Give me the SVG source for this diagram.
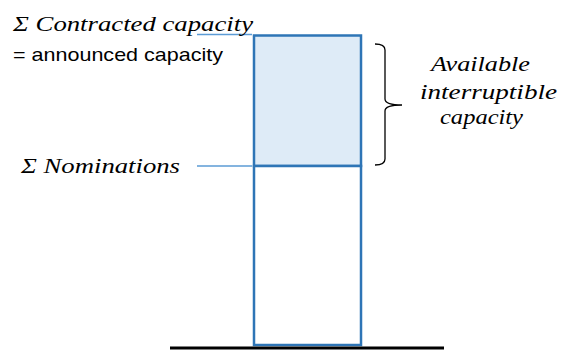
<svg xmlns="http://www.w3.org/2000/svg" width="562" height="350" viewBox="0 0 562 350">
<style>
.m{font-family:"Liberation Serif","DejaVu Serif",serif;font-style:italic;font-size:21px;fill:#000}
.s{font-family:"Liberation Sans",Arial,sans-serif;font-size:19px;fill:#000}
.box{stroke:#2E75B6;stroke-width:2.5}
.lead{stroke:#5B9BD5;stroke-width:1.3;fill:none}
</style>
<rect width="562" height="350" fill="#fff"/>
<g id="connectors">
<line class="lead" x1="197" y1="34.5" x2="252" y2="34.5"/>
<line class="lead" x1="197" y1="166" x2="252" y2="166"/>
</g>
<g id="interruptible-box">
<rect class="box" x="254" y="35.5" width="107" height="130.5" fill="#DEEBF7"/>
</g>
<g id="nominations-box">
<rect class="box" x="254" y="166" width="107" height="179" fill="#fff"/>
</g>
<g id="ground">
<line x1="170" y1="348" x2="444" y2="348" stroke="#000" stroke-width="3"/>
</g>
<g id="brace">
<path d="M375 44 Q385 44 385 50 L385 99 Q385 105 402 105 Q385 105 385 111 L385 159 Q385 165 375 165" fill="none" stroke="#000" stroke-width="1.3"/>
</g>
<g id="label-contracted">
<text class="m" x="13" y="31" textLength="240" lengthAdjust="spacingAndGlyphs">Σ Contracted capacity</text>
<text class="s" x="13" y="61" textLength="210" lengthAdjust="spacingAndGlyphs">= announced capacity</text>
</g>
<g id="label-nominations">
<text class="m" x="21" y="173" textLength="159" lengthAdjust="spacingAndGlyphs">Σ Nominations</text>
</g>
<g id="label-available">
<text class="m" x="431" y="71" textLength="99" lengthAdjust="spacingAndGlyphs">Available</text>
<text class="m" x="420" y="99" textLength="137" lengthAdjust="spacingAndGlyphs">interruptible</text>
<text class="m" x="440" y="124" textLength="83" lengthAdjust="spacingAndGlyphs">capacity</text>
</g>
</svg>
